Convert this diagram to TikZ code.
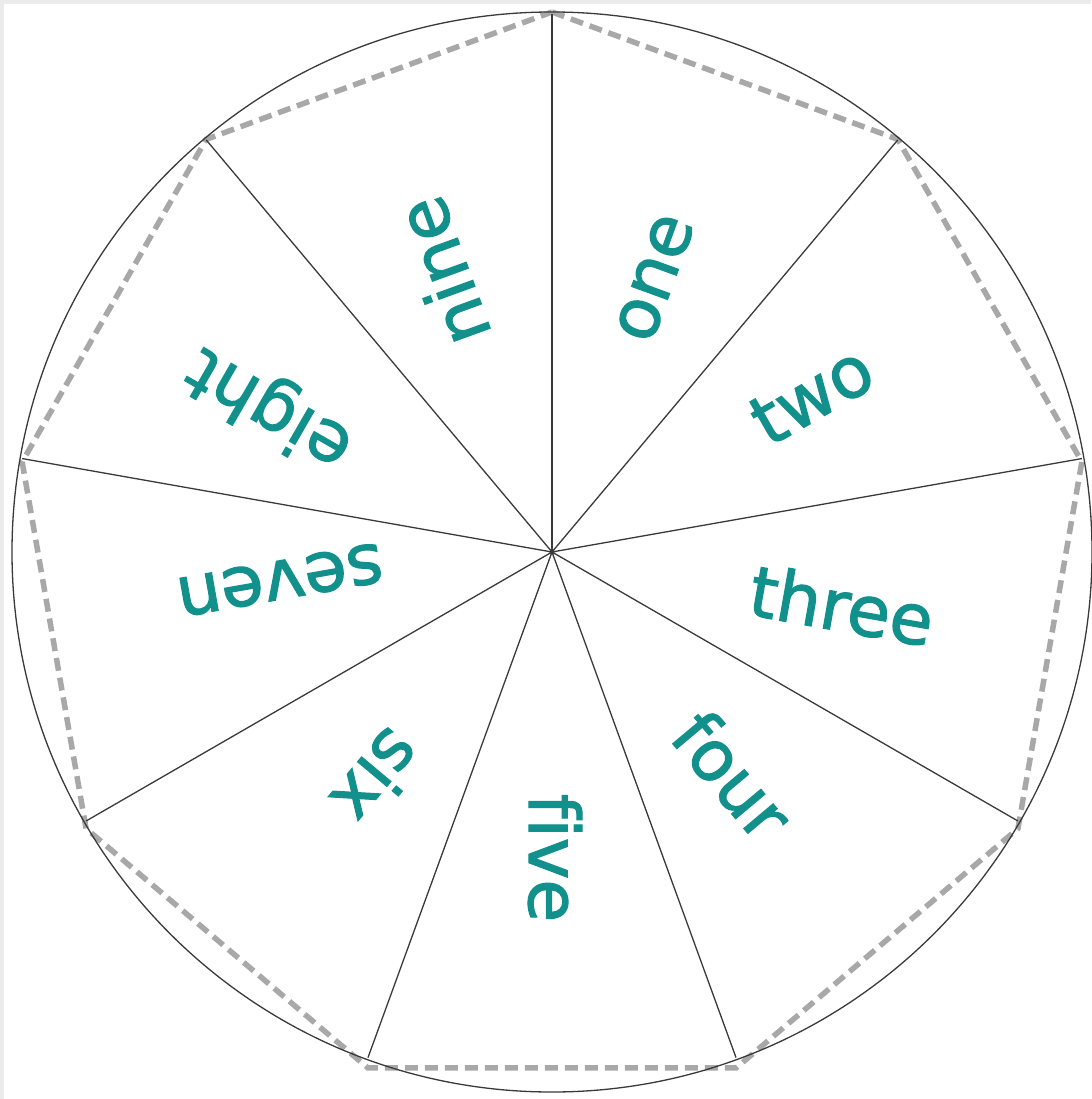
\documentclass[tikz,border=0pt]{standalone}
\usepackage{fontspec}
\setmainfont[Ligatures=NoCommon]{DejaVu Sans}
\newfontfamily\wordfont[FakeBold=1.6, Ligatures=NoCommon]{DejaVu Sans}
\definecolor{tealword}{HTML}{12918C}
\definecolor{bggray}{HTML}{EBEBEB}
\definecolor{spokegray}{HTML}{3A3A3A}
\definecolor{dashgray}{HTML}{A8A8A8}
\begin{document}
\begin{tikzpicture}[x=1pt,y=-1pt,
  spokeline/.style={draw=spokegray, line width=1.3pt},
  rimline/.style={draw=spokegray, line width=1.3pt},
  dashline/.style={draw=dashgray, line width=5.5pt, dash pattern=on 13pt off 7pt},
  word/.style={text=tealword, font=\wordfont\fontsize{70}{82}\selectfont, inner sep=0pt}]
\fill[bggray] (0,0) rectangle (1091,1099);
\fill[white] (4,4) rectangle (1091,1099);
\useasboundingbox (0,0) rectangle (1091,1099);
\coordinate (c) at (552,552);
\foreach \i/\a in {0/90,1/50,2/10,3/-30,4/-70,5/-110,6/-150,7/170,8/130}{
  \coordinate (v\i) at ({552+538*cos(\a)},{552-538*sin(\a)});
  \coordinate (d\i) at ({552+538*cos(\a)},{556.4-544.4*sin(\a)});
}
% dashed nonagon
\draw[dashline] (d0) -- (d1) -- (d2) -- (d3) -- (d4) -- (d5) -- (d6) -- (d7) -- (d8) -- cycle;
% rim
\draw[rimline] (c) circle (540);
% spokes
\foreach \i in {0,...,8}{
  \draw[spokeline] (c) -- (v\i);
}
\fill[spokegray] (c) circle (2.5);
% labels
\node[word, rotate=70]   (wone)   at (655,278) {one};
\node[word, rotate=30]   (wtwo)   at (812,395) {two};
\node[word, rotate=-10]  (wthree) at (842,605) {three};
\node[word, rotate=-50]  (wfour)  at (733,775) {four};
\node[word, rotate=-90]  (wfive)  at (555,858) {five};
\node[word, rotate=-130] (wsix)   at (378,778) {six};
\node[word, rotate=190]  (wseven) at (280,580) {seven};
\node[word, rotate=150]  (weight) at (270,408) {eight};
\node[word, rotate=110]  (wnine)  at (442,272) {nine};
\end{tikzpicture}
\end{document}
